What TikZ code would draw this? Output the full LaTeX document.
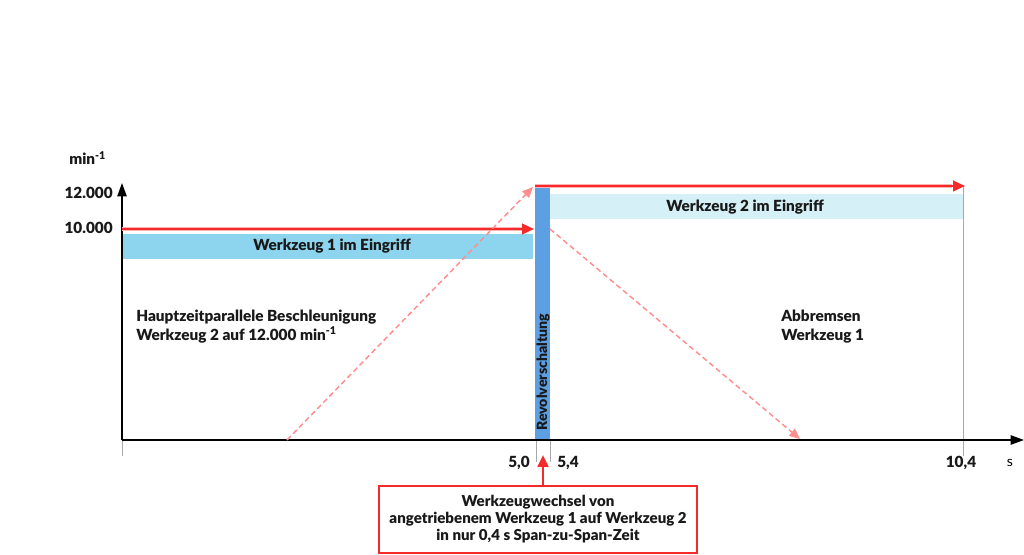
\documentclass[tikz,border=0pt]{standalone}
\usepackage{fontspec}
\IfFontExistsTF{Lato Black}{\setmainfont{Lato}[BoldFont={Lato Black}]}{\setmainfont{Lato}}
\usetikzlibrary{arrows.meta}
\definecolor{rl}{HTML}{F52A2A}
\definecolor{rglow}{HTML}{FFB0B0}
\definecolor{rdash}{HTML}{FF8E8E}
\definecolor{band1}{HTML}{8DD4EE}
\definecolor{band2}{HTML}{D5F0F7}
\definecolor{rev}{HTML}{5C9FE2}
\definecolor{tick}{HTML}{A8A8A8}
\tikzset{
  lbl/.style={font=\bfseries\fontsize{11.5}{13}\selectfont, inner sep=0pt, text=black!90},
  boxlbl/.style={font=\bfseries\fontsize{11.3}{12.75}\selectfont, inner sep=0pt, text=black!90},
  revlbl/.style={font=\bfseries\fontsize{10.6}{12}\selectfont, inner sep=0pt, text=black!90},
  redarrow/.style={draw=rl, line width=1.6pt, -{Triangle[length=9pt,width=8pt]}},
  glow/.style={draw=rglow, line width=3.6pt},
  dasharrow/.style={draw=rdash, line width=1.1pt, dashed, dash pattern=on 4pt off 2.5pt, -{Triangle[length=8pt,width=7pt]}},
  axis/.style={draw=black, line width=1.1pt, -{Triangle[length=10pt,width=7pt]}},
  ticklin/.style={draw=tick, line width=0.6pt},
}
\begin{document}
\begin{tikzpicture}[x=0.75pt,y=-0.75pt]
\useasboundingbox (0,0) rectangle (1024,555);
% bands
\fill[band1] (122,234) rectangle (533,259);
\fill[band2] (550,194) rectangle (963,219);
\fill[rev] (535,186) rectangle (550,440);
% ticks
\coordinate (o) at (122,440);
\coordinate (ob) at (122,456);
\draw[ticklin] (o) -- (ob);
\coordinate (t50) at (536,440); \coordinate (t50b) at (536,462);
\coordinate (t54) at (550,440); \coordinate (t54b) at (550,462);
\draw[ticklin] (t50) -- (t50b);
\draw[ticklin] (t54) -- (t54b);
\coordinate (t104a) at (963,186); \coordinate (t104b) at (963,456);
\draw[ticklin] (t104a) -- (t104b);
% axes
\coordinate (ytip) at (122,183);
\coordinate (xtip) at (1024,440);
\draw[axis] (o) -- (ytip);
\draw[axis] (o) -- (xtip);
% red lines
\coordinate (r1a) at (122,229); \coordinate (r1b) at (534,229); \coordinate (r1g) at (522,229);
\draw[glow] (r1a) -- (r1g);
\draw[redarrow] (r1a) -- (r1b);
\coordinate (r2a) at (535,186); \coordinate (r2b) at (965,186); \coordinate (r2g) at (952,186);
\draw[glow] (r2a) -- (r2g);
\draw[redarrow] (r2a) -- (r2b);
% dashed
\coordinate (d1a) at (287,440); \coordinate (d1b) at (533,187);
\draw[dasharrow] (d1a) -- (d1b);
\coordinate (d2a) at (550,229); \coordinate (d2b) at (800,439);
\draw[dasharrow] (d2a) -- (d2b);
% axis labels
\node[lbl, anchor=west] (miny) at (69,158) {min\textsuperscript{-1}};
\node[lbl, anchor=east] (y12) at (113,193) {12.000};
\node[lbl, anchor=east] (y10) at (113,228) {10.000};
\node[lbl] (x50) at (519,463) {5,0};
\node[lbl] (x54) at (568,463) {5,4};
\node[lbl] (x104) at (961,463) {10,4};
\node[font=\fontsize{10.5}{12}\selectfont, inner sep=0pt] (xs) at (1010,463) {s};
% band labels
\node[lbl] (w1) at (332,246) {Werkzeug 1 im Eingriff};
\node[lbl] (w2) at (745,207) {Werkzeug 2 im Eingriff};
\node[revlbl, rotate=90, anchor=west] (revt) at (543,431) {Revolverschaltung};
% texts
\node[lbl, anchor=north west, align=left] (hz) at (136,310) {Hauptzeitparallele Beschleunigung\\[1pt]Werkzeug 2 auf 12.000 min\textsuperscript{-1}};
\node[lbl, anchor=north west, align=left] (ab) at (781,310) {Abbremsen\\[1pt]Werkzeug 1};
% box
\node[draw=rl, line width=1.6pt, fill=white, minimum width=318pt*0.75, minimum height=67pt*0.75, inner sep=0pt, align=center, boxlbl, anchor=north] (box) at (538,485)
  {Werkzeugwechsel von\\angetriebenem Werkzeug 1 auf Werkzeug 2\\in nur 0,4 s Span-zu-Span-Zeit};
\coordinate (btip) at (543,455);
\draw[redarrow, line width=2pt] (box.north -| btip) -- (btip);
\end{tikzpicture}
\end{document}
